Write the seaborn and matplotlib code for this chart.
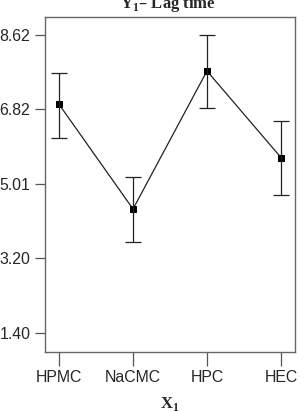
import matplotlib
matplotlib.use("Agg")
import matplotlib.pyplot as plt
import seaborn as sns
import pandas as pd
import numpy as np

categories = ["HPMC", "NaCMC", "HPC", "HEC"]
means = [6.94, 4.40, 7.75, 5.65]
err_lo = [6.13, 3.61, 6.85, 4.75]
err_hi = [7.70, 5.18, 8.62, 6.54]
yticks = [1.40, 3.20, 5.01, 6.82, 8.62]
ytick_labels = ["1.40", "3.20", "5.01", "6.82", "8.62"]

df = pd.DataFrame({"X1": categories, "Y1": means})

sns.set_style("white")
plt.rcParams['font.family'] = ['Liberation Sans', 'DejaVu Sans']

fig = plt.figure(figsize=(3.04, 4.12), dpi=100)
ax = fig.add_axes([45/304, 1 - 352/412, 250/304, 335/412])

sns.lineplot(data=df, x="X1", y="Y1", ax=ax, color="#222222", lw=0.9,
             marker="s", markersize=5, markeredgecolor="black",
             markerfacecolor="black", sort=False)
x = np.arange(len(categories))
m = np.array(means)
ax.errorbar(x, m, yerr=[m - np.array(err_lo), np.array(err_hi) - m],
            fmt="none", ecolor="#222222", elinewidth=0.9, capsize=5.5, capthick=0.9)

ax.set_xlim(-0.19, 3.19)
ax.set_ylim(0.93, 9.06)
ax.set_yticks(yticks)
ax.set_yticklabels(ytick_labels, fontsize=11.4)
ax.set_xticks(x)
ax.set_xticklabels(categories, fontsize=11.4)
ax.tick_params(axis="y", direction="out", length=7, width=0.9, color="#555555", pad=3.5, left=True)
ax.tick_params(axis="x", direction="out", length=10, width=0.9, color="#555555", pad=3, bottom=True)
for s in ax.spines.values():
    s.set_color("#666666")
    s.set_linewidth(1.0)
ax.set_ylabel("")
ax.set_xlabel("")

fig.text(168/304, 1 - 8/412, "Y$_\\mathregular{1}$– Lag time", ha="center", va="baseline",
         fontsize=12, fontweight="bold", family=["Liberation Serif", "DejaVu Serif"])
fig.text(170/304, 1 - 408/412, "X$_\\mathregular{1}$", ha="center", va="baseline",
         fontsize=12, fontweight="bold", family=["Liberation Serif", "DejaVu Serif"])

fig.savefig("out.png", dpi=100)
